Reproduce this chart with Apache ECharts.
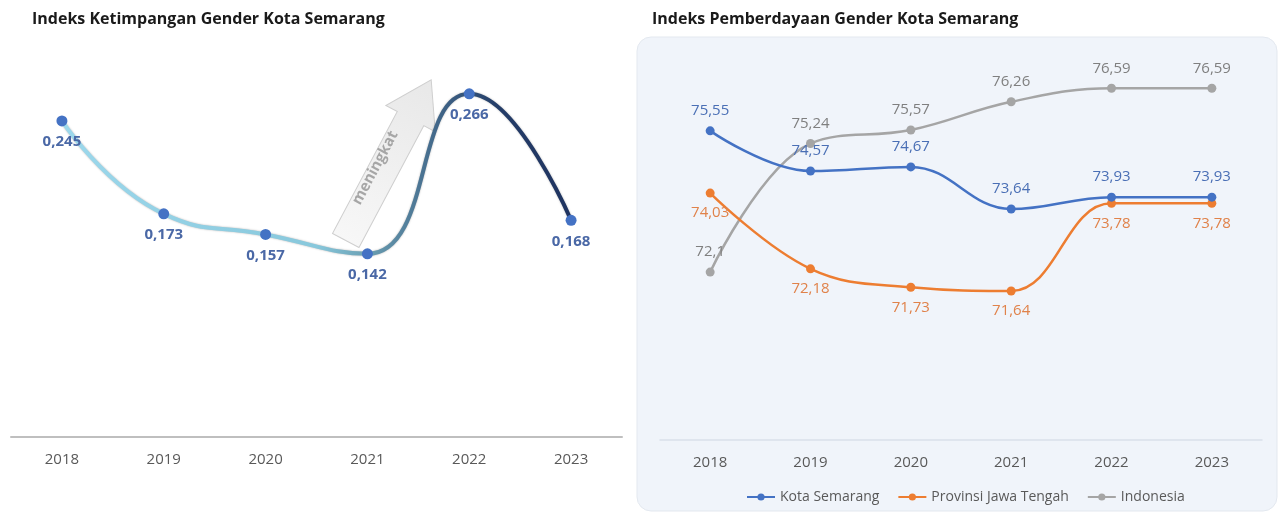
<!DOCTYPE html>
<html>
<head>
<meta charset="utf-8">
<script src="https://cdn.jsdelivr.net/npm/echarts@6/dist/echarts.min.js"></script>
<style>
  html, body { margin: 0; padding: 0; background: #fff; }
  #chart { width: 1278px; height: 513px; }
</style>
</head>
<body>
<div id="chart"></div>
<script>
const years = ["2018", "2019", "2020", "2021", "2022", "2023"];
const ikgValues = [0.245, 0.173, 0.157, 0.142, 0.266, 0.168];
const kotaValues = [75.55, 74.57, 74.67, 73.64, 73.93, 73.93];
const provValues = [74.03, 72.18, 71.73, 71.64, 73.78, 73.78];
const indoValues = [72.1, 75.24, 75.57, 76.26, 76.59, 76.59];

const font = "Open Sans";
const comma = (v) => String(v).replace(".", ",");

const chart = echarts.init(document.getElementById("chart"));

const arrowDeg = 62;

const option = {
  animation: false,
  textStyle: { fontFamily: font },
  title: [
    {
      text: "Indeks Ketimpangan Gender Kota Semarang",
      left: 27, top: 6,
      textStyle: { fontSize: 16, fontWeight: "bold", color: "#1a1a1a", fontFamily: font },
    },
    {
      text: "Indeks Pemberdayaan Gender Kota Semarang",
      left: 647, top: 6,
      textStyle: { fontSize: 16, fontWeight: "bold", color: "#1a1a1a", fontFamily: font },
    },
  ],
  graphic: [
    {
      type: "rect",
      z: -10,
      shape: { x: 637, y: 37, width: 640, height: 474, r: 14 },
      style: { fill: "#f0f4fa", stroke: "#e3e8ef", lineWidth: 1 },
    },
    {
      // "meningkat" arrow
      type: "group",
      x: 388, y: 161,
      rotation: (arrowDeg * Math.PI) / 180,
      children: [
        {
          type: "polygon",
          shape: {
            points: [[-90, -15], [48, -15], [48, -28], [92, 0], [48, 28], [48, 15], [-90, 15]],
          },
          style: {
            fill: new echarts.graphic.LinearGradient(0, 0, 1, 0, [
              { offset: 0, color: "#f7f7f7" },
              { offset: 1, color: "#e8e8e8" },
            ]),
            stroke: "#cfcfcf",
            lineWidth: 1,
          },
        },
        {
          type: "text",
          x: -12, y: -8,
          style: {
            text: "meningkat",
            fontSize: 15, fontWeight: "bold", fontFamily: font,
            fill: "#a6a6a6", align: "center", verticalAlign: "middle",
          },
        },
      ],
    },
  ],
  legend: {
    left: 741, top: 485,
    itemWidth: 28, itemHeight: 9, itemGap: 18,
    textStyle: { color: "#595959", fontSize: 14, fontFamily: font },
    data: ["Kota Semarang", "Provinsi Jawa Tengah", "Indonesia"],
  },
  grid: [
    { left: 11, width: 611, top: 50, bottom: 76 },
    { left: 660, width: 602, top: 51, bottom: 73 },
  ],
  xAxis: [
    {
      type: "category", gridIndex: 0, data: years,
      axisLine: { lineStyle: { color: "#bfbfbf", width: 2 } },
      axisTick: { show: false },
      axisLabel: { color: "#595959", fontSize: 15, margin: 15 },
    },
    {
      type: "category", gridIndex: 1, data: years,
      axisLine: { lineStyle: { color: "#d9e0ea", width: 1.5 } },
      axisTick: { show: false },
      axisLabel: { color: "#595959", fontSize: 15, margin: 15 },
    },
  ],
  yAxis: [
    { type: "value", gridIndex: 0, min: 0, max: 0.3, show: false },
    { type: "value", gridIndex: 1, min: 68, max: 77.5, show: false },
  ],
  series: [
    {
      name: "IKG",
      type: "line", xAxisIndex: 0, yAxisIndex: 0,
      data: ikgValues,
      smooth: 0.5,
      symbol: "circle", symbolSize: 11,
      itemStyle: { color: "#4472c4" },
      lineStyle: {
        width: 4,
        color: new echarts.graphic.LinearGradient(0, 0, 1, 0, [
          { offset: 0, color: "#9cd8ec" },
          { offset: 0.5, color: "#88c8dc" },
          { offset: 0.6, color: "#6a9fb3" },
          { offset: 0.75, color: "#3d6185" },
          { offset: 0.85, color: "#243d68" },
          { offset: 1, color: "#1f3360" },
        ]),
        shadowColor: "rgba(0,0,0,0.3)",
        shadowBlur: 2,
      },
      label: {
        show: true, position: "bottom", distance: 8,
        color: "#4a68a6", fontSize: 15, fontWeight: "bold",
        formatter: (p) => comma(p.value),
      },
      z: 3,
    },
    {
      name: "Kota Semarang",
      type: "line", xAxisIndex: 1, yAxisIndex: 1,
      data: kotaValues,
      smooth: 0.4,
      symbol: "circle", symbolSize: 9,
      itemStyle: { color: "#4472c4" },
      lineStyle: { width: 2.5, color: "#4472c4" },
      label: {
        show: true, position: "top", distance: 8,
        color: "#4a6fb5", fontSize: 15,
        formatter: (p) => comma(p.value),
      },
      z: 4,
    },
    {
      name: "Provinsi Jawa Tengah",
      type: "line", xAxisIndex: 1, yAxisIndex: 1,
      data: provValues,
      smooth: 0.4,
      symbol: "circle", symbolSize: 9,
      itemStyle: { color: "#ed7d31" },
      lineStyle: { width: 2.5, color: "#ed7d31" },
      label: {
        show: true, position: "bottom", distance: 8,
        color: "#e0824a", fontSize: 15,
        formatter: (p) => comma(p.value),
      },
      z: 3,
    },
    {
      name: "Indonesia",
      type: "line", xAxisIndex: 1, yAxisIndex: 1,
      data: indoValues,
      smooth: 0.4,
      symbol: "circle", symbolSize: 9,
      itemStyle: { color: "#a5a5a5" },
      lineStyle: { width: 2.5, color: "#a5a5a5" },
      label: {
        show: true, position: "top", distance: 8,
        color: "#7f7f7f", fontSize: 15,
        formatter: (p) => comma(p.value),
      },
      z: 2,
    },
  ],
};

chart.setOption(option);
</script>
</body>
</html>
